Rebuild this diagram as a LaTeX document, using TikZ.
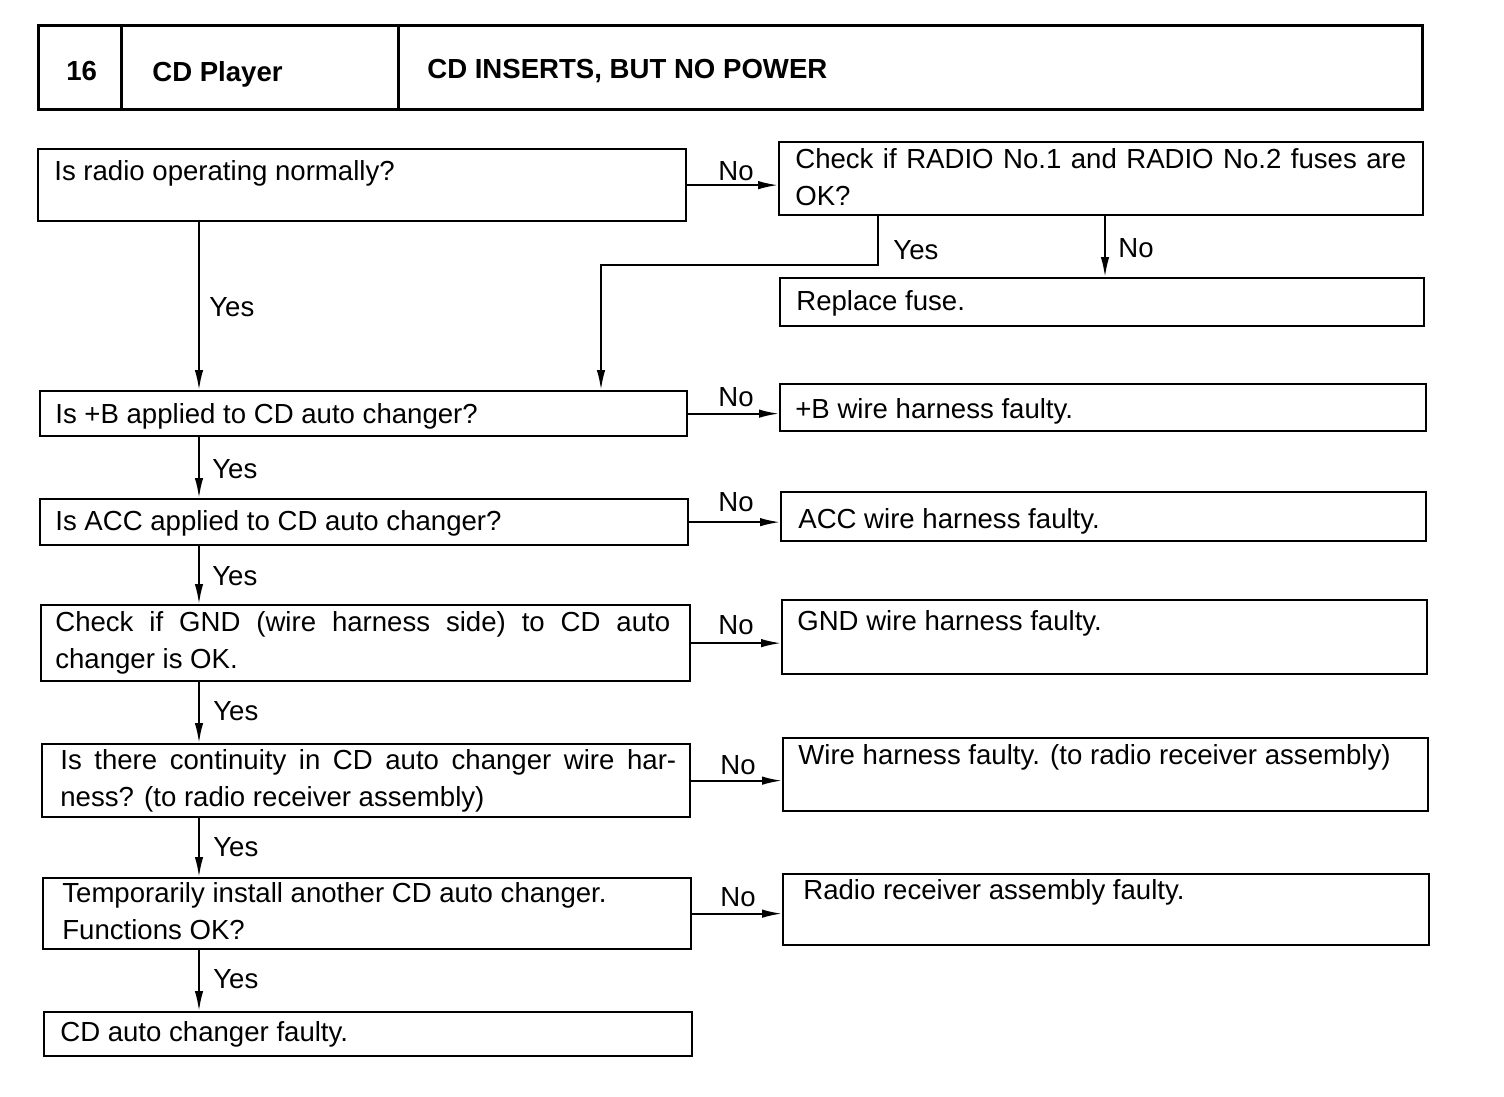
\documentclass[tikz,border=0pt]{standalone}
\usepackage{fontspec}
\setmainfont{Liberation Sans}
\usetikzlibrary{arrows.meta}

\newcommand{\chartfont}{\fontsize{15.7}{21}\selectfont}

\begin{document}
\begin{tikzpicture}[x=0.02cm, y=-0.02cm,
	every node/.style={font=\chartfont},
	box/.style={draw, line width=1.3pt, anchor=north west, inner sep=0pt},
	hbox/.style={draw, line width=1.6pt, anchor=north west, inner sep=0pt, minimum height=1.68cm},
	txt/.style={anchor=base west, inner sep=0pt, align=left},
	lbl/.style={anchor=base west, inner sep=0pt},
	arr/.style={line width=1.1pt, -{Latex[length=0.4cm, width=0.17cm]}}]
	\useasboundingbox (0,0) rectangle (1504,1096);
	% heading
	\node[hbox, minimum width=1.66cm] (hnum) at (37,24) {};
	\node[hbox, minimum width=5.54cm] (hsys) at (120,24) {};
	\node[hbox, minimum width=20.48cm] (hcase) at (397,24) {};
	\node[txt, font=\chartfont\bfseries] (hnum-t) at (66,80) {16};
	\node[txt, font=\chartfont\bfseries] (hsys-t) at (152,81) {CD Player};
	\node[txt, font=\chartfont\bfseries] (hcase-t) at (427,78) {CD INSERTS, BUT NO POWER};
	% question column
	\node[box, minimum width=12.96cm, minimum height=1.44cm] (q1) at (37,148) {};
	\node[box, minimum width=12.94cm, minimum height=0.90cm] (q2) at (39,390) {};
	\node[box, minimum width=12.96cm, minimum height=0.92cm] (q3) at (39,498) {};
	\node[box, minimum width=12.98cm, minimum height=1.52cm] (q4) at (40,604) {};
	\node[box, minimum width=12.96cm, minimum height=1.46cm] (q5) at (41,743) {};
	\node[box, minimum width=12.96cm, minimum height=1.42cm] (q6) at (42,877) {};
	\node[box, minimum width=12.96cm, minimum height=0.88cm] (q7) at (43,1011) {};
	\node[txt] (q1-t) at (54,180) {Is radio operating normally?};
	\node[txt] (q2-t) at (55,423) {Is +B applied to CD auto changer?};
	\node[txt] (q3-t) at (55,530) {Is ACC applied to CD auto changer?};
	\node[txt] (q4-t) at (55,668) {\makebox[12.3cm][s]{Check if GND (wire harness side) to CD auto}\\changer is OK.};
	\node[txt] (q5-t) at (60,806) {\makebox[12.32cm][s]{Is there continuity in CD auto changer wire har-}\\ness? (to radio receiver assembly)};
	\node[txt] (q6-t) at (62,939) {Temporarily install another CD auto changer.\\Functions OK?};
	\node[txt] (q7-t) at (60,1041) {CD auto changer faulty.};
	% result column
	\node[box, minimum width=12.88cm, minimum height=1.46cm] (r1) at (778,141) {};
	\node[box, minimum width=12.88cm, minimum height=0.96cm] (r2) at (779,277) {};
	\node[box, minimum width=12.92cm, minimum height=0.94cm] (r3) at (779,383) {};
	\node[box, minimum width=12.90cm, minimum height=0.98cm] (r4) at (780,491) {};
	\node[box, minimum width=12.90cm, minimum height=1.48cm] (r5) at (781,599) {};
	\node[box, minimum width=12.90cm, minimum height=1.46cm] (r6) at (782,737) {};
	\node[box, minimum width=12.92cm, minimum height=1.42cm] (r7) at (782,873) {};
	\node[txt] (r1-t) at (795,205) {\makebox[12.22cm][s]{Check if RADIO No.1 and RADIO No.2 fuses are}\\OK?};
	\node[txt] (r2-t) at (796,310) {Replace fuse.};
	\node[txt] (r3-t) at (795,418) {+B wire harness faulty.};
	\node[txt] (r4-t) at (798,528) {ACC wire harness faulty.};
	\node[txt] (r5-t) at (797,630) {GND wire harness faulty.};
	\node[txt] (r6-t) at (798,764) {Wire harness faulty. (to radio receiver assembly)};
	\node[txt] (r7-t) at (803,899) {Radio receiver assembly faulty.};
	% connectors
	\coordinate (spine) at (199,0);
	\coordinate (yesturn) at (878,265);
	\coordinate (yesdrop) at (601,265);
	\coordinate (nofuse) at (1105,0);
	\draw[arr] (q1.east) -- (q1.east -| r1.west);
	\draw[arr] (q2.east) -- (q2.east -| r3.west);
	\draw[arr] (q3.east) -- (q3.east -| r4.west);
	\draw[arr] (q4.east) -- (q4.east -| r5.west);
	\draw[arr] (q5.east) -- (q5.east -| r6.west);
	\draw[arr] (q6.east) -- (q6.east -| r7.west);
	\draw[arr] (q1.south -| spine) -- (q2.north -| spine);
	\draw[arr] (q2.south -| spine) -- (q3.north -| spine);
	\draw[arr] (q3.south -| spine) -- (q4.north -| spine);
	\draw[arr] (q4.south -| spine) -- (q5.north -| spine);
	\draw[arr] (q5.south -| spine) -- (q6.north -| spine);
	\draw[arr] (q6.south -| spine) -- (q7.north -| spine);
	\draw[arr] (r1.south -| yesturn) -- (yesturn) -- (yesdrop) -- (q2.north -| yesdrop);
	\draw[arr] (r1.south -| nofuse) -- (r2.north -| nofuse);
	% branch labels
	\node[lbl] (no1) at (718,180) {No};
	\node[lbl] (no2) at (718,406) {No};
	\node[lbl] (no3) at (718,511) {No};
	\node[lbl] (no4) at (718,634) {No};
	\node[lbl] (no5) at (720,774) {No};
	\node[lbl] (no6) at (720,906) {No};
	\node[lbl] (nofuse-l) at (1118,257) {No};
	\node[lbl] (yesfuse-l) at (893,259) {Yes};
	\node[lbl] (yes1) at (209,316) {Yes};
	\node[lbl] (yes2) at (212,478) {Yes};
	\node[lbl] (yes3) at (212,585) {Yes};
	\node[lbl] (yes4) at (213,720) {Yes};
	\node[lbl] (yes5) at (213,856) {Yes};
	\node[lbl] (yes6) at (213,988) {Yes};
\end{tikzpicture}
\end{document}
